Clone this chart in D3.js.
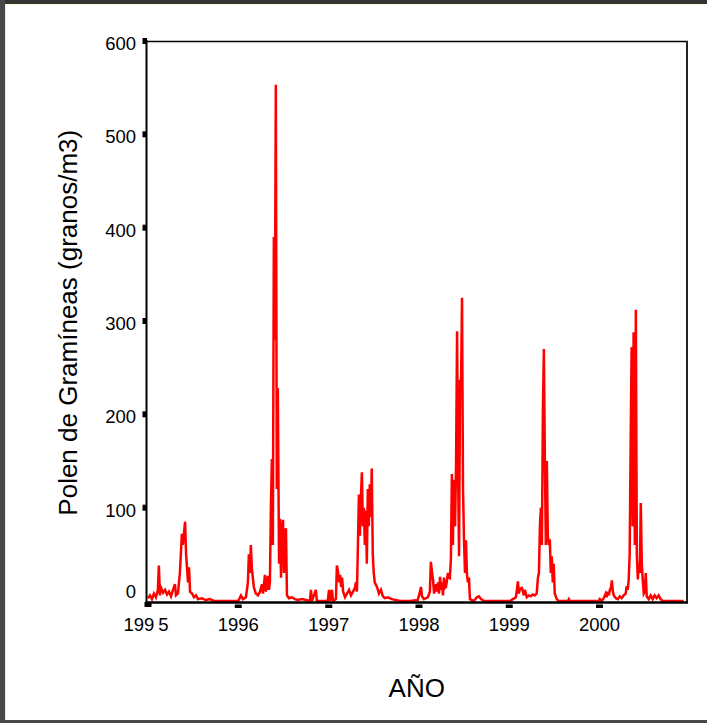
<!DOCTYPE html>
<html>
<head>
<meta charset="utf-8">
<script src="https://cdn.jsdelivr.net/npm/d3@7"></script>
<style>
  body { margin: 0; background: #fff; }
  text { font-family: "Liberation Sans", Arial, sans-serif; fill: #000; }
</style>
</head>
<body>
<svg width="707" height="723"></svg>
<script>
// pollen counts, [day of year, granos/m3]
var pollen1995 = [[0,3],[8,6],[16,2],[24,8],[32,4],[40,12],[44,38],[48,6],[53,14],[61,9],[69,12],[77,7],[85,10],
  [93,5],[101,12],[109,18],[113,6],[121,8],[129,30],[137,72],[141,60],[150,85],[154,50],[162,20],[166,36],[170,10],
  [178,8],[186,4],[194,6],[202,2],[218,3],[234,1],[250,2],[267,0],[315,0],[360,0]];
var pollen1996 = [[0,0],[11,6],[19,2],[31,4],[39,20],[43,50],[47,30],[51,60],[55,35],[63,15],[71,8],[80,6],[88,10],
  [96,18],[100,8],[108,28],[112,10],[120,27],[124,12],[128,20],[132,100],[136,152],[140,60],[144,390],[148,280],
  [152,553],[156,120],[160,228],[165,40],[169,88],[173,25],[177,77],[181,87],[185,30],[189,74],[193,78],[197,6],
  [205,3],[217,4],[229,2],[241,1],[257,2],[274,1],[290,0],[294,12],[298,0],[314,12],[318,0],[330,0],[347,0],[362,0]];
var pollen1997 = [[1,12],[5,0],[13,12],[17,0],[29,2],[33,38],[38,30],[42,20],[46,28],[50,15],[54,25],[58,10],[66,4],
  [74,8],[82,12],[90,6],[98,10],[106,14],[110,20],[114,10],[118,60],[122,114],[126,70],[130,110],[134,138],[138,80],
  [142,100],[146,60],[150,97],[154,40],[158,120],[162,80],[166,125],[170,90],[174,142],[178,50],[182,30],[186,20],
  [195,15],[203,8],[211,12],[219,5],[227,3],[239,4],[255,2],[271,1],[287,0],[328,0],[360,1]];
var pollen1998 = [[4,10],[8,15],[12,5],[20,2],[28,3],[36,4],[44,10],[48,42],[53,30],[57,22],[61,8],[69,18],[73,10],
  [77,20],[81,8],[85,26],[89,12],[93,20],[97,6],[101,25],[105,14],[109,15],[113,22],[117,30],[121,26],[125,25],
  [129,45],[133,136],[137,60],[141,130],[146,80],[150,150],[154,289],[158,140],[162,48],[166,237],[170,230],
  [174,325],[178,120],[182,66],[186,30],[190,65],[194,28],[198,20],[202,25],[206,2],[214,1],[222,0],[234,4],
  [242,5],[251,2],[263,0],[307,0],[360,0]];
var pollen1999 = [[3,0],[15,2],[27,4],[31,12],[35,21],[39,8],[43,13],[51,14],[59,6],[63,12],[71,4],[79,6],[87,5],
  [95,7],[103,6],[111,8],[116,25],[120,30],[124,80],[128,100],[132,60],[136,200],[140,270],[144,152],[148,60],
  [152,150],[156,70],[160,60],[164,66],[168,30],[172,48],[176,20],[180,40],[184,8],[192,2],[200,0],[237,0],
  [241,2],[245,0],[305,0],[362,0]];
var pollen2000 = [[1,2],[9,0],[17,3],[25,8],[29,4],[34,10],[38,6],[42,12],[46,14],[50,22],[54,10],[58,6],[66,3],
  [74,2],[82,5],[90,3],[98,6],[106,8],[110,16],[114,12],[118,22],[122,50],[126,170],[130,272],[134,80],[138,288],
  [143,60],[147,312],[151,50],[155,23],[159,40],[163,30],[167,105],[171,40],[175,22],[179,8],[183,10],[187,30],
  [191,5],[199,2],[207,6],[215,2],[223,6],[231,3],[239,6],[247,2],[256,0],[284,0],[324,0],[340,0]];

var years = [1995, 1996, 1997, 1998, 1999, 2000];
var yTicks = [0, 100, 200, 300, 400, 500, 600];
var yTitle = "Polen de Gramíneas (granos/m3)";
var xTitle = "AÑO";

var series = [pollen1995, pollen1996, pollen1997, pollen1998, pollen1999, pollen2000];
var data = [];
series.forEach(function(arr, i) {
  arr.forEach(function(p) {
    data.push({ date: new Date(years[i], 0, 1 + p[0]), value: p[1] });
  });
});

var svg = d3.select("svg");

// slide frame round the picture
svg.append("rect").attr("x", 0).attr("y", 0).attr("width", 707).attr("height", 4).attr("fill", "#333");
svg.append("rect").attr("x", 0).attr("y", 0).attr("width", 5).attr("height", 723).attr("fill", "#484848");
svg.append("rect").attr("x", 0).attr("y", 720).attr("width", 707).attr("height", 3).attr("fill", "#484848");
svg.append("line").attr("x1", 5).attr("x2", 707).attr("y1", 4.5).attr("y2", 4.5).attr("stroke", "#fffbd0");
svg.append("line").attr("x1", 5.5).attr("x2", 5.5).attr("y1", 4).attr("y2", 720).attr("stroke", "#f4eeb0");

// plot box ("top" is taken by window.top, so use other names)
var boxL = 146.5, boxR = 687, boxT = 41, boxB = 602.5;

var x = d3.scaleTime()
  .domain([new Date(1995, 0, 1), new Date(2001, 0, 1)])
  .range([148, 690]);
var y = d3.scaleLinear()
  .domain([0, 600])
  .range([601, 41]);

var line = d3.line()
  .x(function(d) { return x(d.date); })
  .y(function(d) { return y(d.value); });

svg.append("path")
  .datum(data)
  .attr("d", line)
  .attr("fill", "none")
  .attr("stroke", "#ff0000")
  .attr("stroke-width", 2.5);

// box
svg.append("line").attr("x1", boxL).attr("x2", boxR + 1).attr("y1", boxT + 0.5).attr("y2", boxT + 0.5)
  .attr("stroke", "#000").attr("stroke-width", 1.5);
svg.append("line").attr("x1", boxR).attr("x2", boxR).attr("y1", boxT).attr("y2", boxB)
  .attr("stroke", "#222").attr("stroke-width", 2);
svg.append("line").attr("x1", boxL).attr("x2", boxL).attr("y1", boxT - 1).attr("y2", boxB + 1)
  .attr("stroke", "#000").attr("stroke-width", 2);
svg.append("line").attr("x1", boxL - 1).attr("x2", boxR + 1).attr("y1", boxB).attr("y2", boxB)
  .attr("stroke", "#000").attr("stroke-width", 2.5);

// y ticks and labels
svg.selectAll(".ytick").data(yTicks.filter(function(d) { return d > 0; }))
  .enter().append("rect")
  .attr("class", "ytick")
  .attr("x", 142.5).attr("width", 4.5)
  .attr("y", function(d) { return y(d) - 3; }).attr("height", 6)
  .attr("fill", "#000");

svg.selectAll(".ylab").data(yTicks)
  .enter().append("text")
  .attr("class", "ylab")
  .attr("x", 136)
  .attr("y", function(d) { return d == 0 ? y(d) - 3 : y(d) + 9; })
  .attr("text-anchor", "end")
  .style("font-size", "18.5px")
  .text(function(d) { return d; });

// x ticks and labels
svg.selectAll(".xtick").data(years)
  .enter().append("rect")
  .attr("class", "xtick")
  .attr("x", function(d) { return x(new Date(d, 0, 1)) - 3.5; }).attr("width", 7)
  .attr("y", function(d) { return d == 1995 ? 602 : 604.5; })
  .attr("height", function(d) { return d == 1995 ? 5 : 3.5; })
  .attr("fill", "#000");

var xlab = svg.selectAll(".xlab").data(years)
  .enter().append("text")
  .attr("class", "xlab")
  .attr("x", function(d) { return x(new Date(d, 0, 1)); })
  .attr("y", 631)
  .attr("text-anchor", "middle")
  .style("font-size", "18.5px");
xlab.each(function(d) {
  var t = d3.select(this);
  if (d == 1995) {   // the first label is printed with a gap before the 5
    t.attr("x", x(new Date(d, 0, 1)) - 2);
    t.append("tspan").text("199");
    t.append("tspan").attr("dx", 4).text("5");
  } else {
    t.text(d);
  }
});

// titles
svg.append("text")
  .attr("transform", "translate(77," + ((boxT + boxB) / 2 + 1) + ") rotate(-90)")
  .attr("text-anchor", "middle")
  .style("font-size", "26px")
  .text(yTitle);

svg.append("text")
  .attr("x", (boxL + boxR) / 2)
  .attr("y", 697)
  .attr("text-anchor", "middle")
  .style("font-size", "26px")
  .text(xTitle);
</script>
</body>
</html>
